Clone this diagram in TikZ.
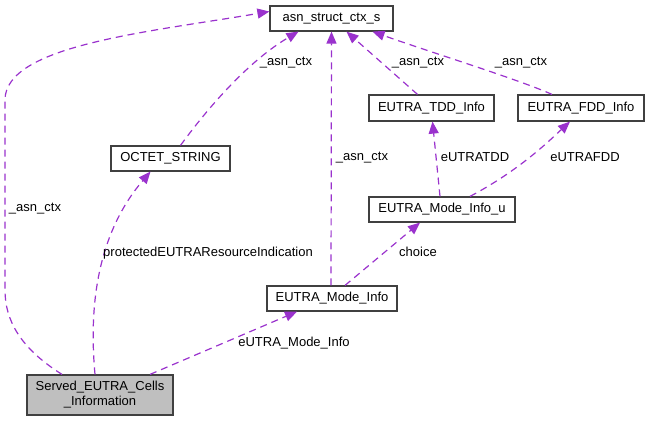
\documentclass[tikz,border=0pt]{standalone}
\usepackage{fontspec}
\setmainfont{Liberation Sans}
\usetikzlibrary{arrows.meta}
\definecolor{edgec}{HTML}{9A32CD}
\definecolor{boxc}{HTML}{404040}
\definecolor{grayfill}{HTML}{BFBFBF}
\tikzset{
  cls/.style={draw=boxc, line width=1.2pt, fill=white, inner sep=0pt, font=\fontsize{13}{15}\selectfont, align=center},
  rel/.style={draw=edgec, line width=1.2pt, dash pattern=on 7pt off 5pt, -{Triangle[length=12pt,width=10pt,fill=edgec]}},
  lbl/.style={font=\fontsize{13}{15}\selectfont, inner sep=0pt}
}
\begin{document}
\begin{tikzpicture}[x=1pt,y=-1pt]
\useasboundingbox (0,0) rectangle (649,421);
% nodes
\node[cls, minimum width=123pt, minimum height=25pt] (asn) at (331.5,18.5) {asn\_struct\_ctx\_s};
\node[cls, minimum width=119pt, minimum height=25pt] (oct) at (170.5,158.5) {OCTET\_STRING};
\node[cls, minimum width=125pt, minimum height=26pt] (tdd) at (431.5,108) {EUTRA\_TDD\_Info};
\node[cls, minimum width=126pt, minimum height=26pt] (fdd) at (581,108) {EUTRA\_FDD\_Info};
\node[cls, minimum width=146pt, minimum height=25pt] (modeu) at (442,209.5) {EUTRA\_Mode\_Info\_u};
\node[cls, minimum width=130pt, minimum height=25pt] (mode) at (332,298.5) {EUTRA\_Mode\_Info};
\node[cls, fill=grayfill, minimum width=146pt, minimum height=40pt] (sec) at (100,395) {Served\_EUTRA\_Cells\\\_Information};
% edges
\draw[rel] ([xshift=-38pt]sec.north) .. controls (20,348) and (5,320) .. (5,290) -- (5,100) .. controls (5,45) and (150,32) .. ([yshift=7pt]asn.west);
\draw[rel] ([xshift=-5pt]sec.north) .. controls (90,320) and (92,240) .. ([xshift=-20pt]oct.south);
\draw[rel] ([xshift=50pt]sec.north) -- ([xshift=-35pt]mode.south);
\draw[rel] ([xshift=10pt]oct.north) .. controls (210,105) and (250,60) .. ([xshift=-33pt]asn.south);
\draw[rel] ([xshift=-1pt]mode.north) -- (asn.south);
\draw[rel] ([xshift=-14pt]tdd.north) -- ([xshift=15pt]asn.south);
\draw[rel] ([xshift=-29pt]fdd.north) .. controls (520,80) and (430,52) .. ([xshift=41pt]asn.south);
\draw[rel] ([xshift=-2pt]modeu.north) -- ([xshift=1pt]tdd.south);
\draw[rel] ([xshift=28pt]modeu.north) .. controls (520,170) and (550,140) .. ([xshift=-11pt]fdd.south);
\draw[rel] ([xshift=13pt]mode.north) -- ([xshift=-22pt]modeu.south);
% labels
\node[lbl] (l1) at (35,209) {\_asn\_ctx};
\node[lbl] (l2) at (208,253) {protectedEUTRAResourceIndication};
\node[lbl] (l3) at (294,343) {eUTRA\_Mode\_Info};
\node[lbl] (l4) at (286,63) {\_asn\_ctx};
\node[lbl] (l5) at (362,158) {\_asn\_ctx};
\node[lbl] (l6) at (418,63) {\_asn\_ctx};
\node[lbl] (l7) at (521,63) {\_asn\_ctx};
\node[lbl] (l8) at (475,157) {eUTRATDD};
\node[lbl] (l9) at (585,157) {eUTRAFDD};
\node[lbl] (l10) at (418,252) {choice};
\end{tikzpicture}
\end{document}
